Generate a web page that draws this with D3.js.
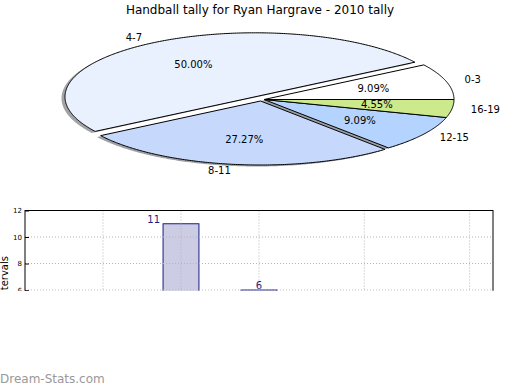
<!DOCTYPE html>
<html>
<head>
<meta charset="utf-8">
<script src="https://cdn.jsdelivr.net/npm/d3@7"></script>
<style>
    body { margin: 0; background: #fff; }
    svg { display: block; font-family: "DejaVu Sans", sans-serif; }
</style>
</head>
<body>
<svg id="chart" width="520" height="390"></svg>
<script>
// data
const title = 'Handball tally for Ryan Hargrave - 2010 tally';
const intervals = ['0-3', '4-7', '8-11', '12-15', '16-19'];
const tally = [2, 11, 6, 2, 1];
const yTicks = [6, 8, 10, 12];
const xGridTicks = [1, 2, 3, 4.35, 5.7];
const yLabel = 'Intervals';
const watermark = 'Dream-Stats.com';

// look
const sliceColors = ['#ffffff', '#eaf1fe', '#c6d8fb', '#b4d4ff', '#cce98c'];
const explodeOffset = [[0, 0], [-9, -2.7], [-3.5, 1.5], [0, 0], [0, 0]];
const pie = { cx: 264, cy: 99.5, rx: 190, ry: 64 };
const shadowOffset = [-3.5, 1.5];

const svg = d3.select('#chart');

svg.append('text')
    .attr('x', 260)
    .attr('y', 14)
    .attr('text-anchor', 'middle')
    .attr('font-size', '12px')
    .text(title);

renderPie();
renderBars();

svg.append('text')
    .attr('x', 0)
    .attr('y', 383)
    .attr('font-size', '12px')
    .attr('fill', '#999')
    .text(watermark);

function ellipsePoint(theta, r) {
    return [pie.cx + r * pie.rx * Math.cos(theta), pie.cy - r * pie.ry * Math.sin(theta)];
}

function wedgePoints(a0, a1) {
    const pts = [[pie.cx, pie.cy]];
    const steps = Math.max(8, Math.ceil((a1 - a0) / 0.01));
    for (let i = 0; i <= steps; i++) {
        pts.push(ellipsePoint(a0 + (a1 - a0) * i / steps, 1));
    }
    return pts;
}

function renderPie() {
    const total = d3.sum(tally);
    const arcs = d3.pie().sort(null).startAngle(0).endAngle(2 * Math.PI)(tally);
    const line = d3.line().curve(d3.curveLinearClosed);
    const g = svg.append('g');

    // shadows first, under every wedge
    g.selectAll('path.shadow')
        .data(arcs)
        .enter()
        .append('path')
        .attr('class', 'shadow')
        .attr('d', d => line(wedgePoints(d.startAngle, d.endAngle)))
        .attr('transform', (d, i) => `translate(${explodeOffset[i][0] + shadowOffset[0]},${explodeOffset[i][1] + shadowOffset[1]})`)
        .attr('fill', (d, i) => {
            const c = d3.rgb(sliceColors[i]);
            return d3.rgb(c.r * 0.3, c.g * 0.3, c.b * 0.3);
        })
        .attr('fill-opacity', 0.5);

    g.selectAll('path.wedge')
        .data(arcs)
        .enter()
        .append('path')
        .attr('class', 'wedge')
        .attr('d', d => line(wedgePoints(d.startAngle, d.endAngle)))
        .attr('transform', (d, i) => `translate(${explodeOffset[i][0]},${explodeOffset[i][1]})`)
        .attr('fill', (d, i) => sliceColors[i])
        .attr('stroke', '#000')
        .attr('stroke-width', 1)
        .attr('stroke-linejoin', 'round');

    arcs.forEach((d, i) => {
        const mid = (d.startAngle + d.endAngle) / 2;
        const [lx, ly] = ellipsePoint(mid, 1.1);
        const [px, py] = ellipsePoint(mid, 0.6);
        const [ox, oy] = explodeOffset[i];

        g.append('text')
            .attr('x', lx + ox)
            .attr('y', ly + oy)
            .attr('dy', '0.35em')
            .attr('text-anchor', Math.cos(mid) > 0 ? 'start' : 'end')
            .attr('font-size', '10px')
            .text(intervals[i]);

        g.append('text')
            .attr('x', px + ox)
            .attr('y', py + oy)
            .attr('dy', '0.35em')
            .attr('text-anchor', 'middle')
            .attr('font-size', '10px')
            .text(d3.format('.2f')(d.value / total * 100) + '%');
    });
}

function renderBars() {
    const left = 25, right = 493, top = 210.5, cut = 290.8;
    const x = d3.scaleLinear().domain([0, 6]).range([left, right]);
    const y = d3.scaleLinear().domain([0, 12]).range([top + 12 * 13.25, top]);
    const barWidth = 0.46;
    const labelShift = [0, -0.35, 0, 0, 0];

    svg.append('clipPath')
        .attr('id', 'cut')
        .append('rect')
        .attr('x', 0).attr('y', 0)
        .attr('width', 520).attr('height', cut);

    const g = svg.append('g').attr('clip-path', 'url(#cut)');

    // only bars whose top is above the cut carry a visible label
    const visible = tally.map((d, i) => ({ value: d, i })).filter(d => y(d.value) < cut);

    g.selectAll('rect.bar')
        .data(tally)
        .enter()
        .append('rect')
        .attr('class', 'bar')
        .attr('x', (d, i) => x(i + 1 - barWidth / 2))
        .attr('y', d => y(d))
        .attr('width', x(barWidth) - x(0))
        .attr('height', d => y(0) - y(d))
        .attr('fill', '#cccce4')
        .attr('stroke', '#1c1c86')
        .attr('stroke-width', 1);

    g.selectAll('text.val')
        .data(visible)
        .enter()
        .append('text')
        .attr('class', 'val')
        .attr('x', d => x(d.i + 1 + labelShift[d.i]))
        .attr('y', d => y(d.value) - 0.8)
        .attr('text-anchor', 'middle')
        .attr('font-size', '10px')
        .attr('fill', '#1c1c86')
        .text(d => d.value);

    // dotted grid on top of the bars
    g.selectAll('line.hgrid')
        .data(yTicks)
        .enter()
        .append('line')
        .attr('x1', left).attr('x2', right)
        .attr('y1', d => y(d)).attr('y2', d => y(d))
        .attr('stroke', '#b4b4b4')
        .attr('stroke-dasharray', '1,2');

    g.selectAll('line.vgrid')
        .data(xGridTicks)
        .enter()
        .append('line')
        .attr('x1', d => x(d)).attr('x2', d => x(d))
        .attr('y1', top).attr('y2', cut)
        .attr('stroke', '#b4b4b4')
        .attr('stroke-dasharray', '1,2');

    const yAxis = g.append('g')
        .attr('transform', `translate(${left},0)`)
        .call(d3.axisLeft(y).tickValues(yTicks).tickSize(-4).tickPadding(3));
    yAxis.select('.domain').remove();
    yAxis.selectAll('text').attr('font-size', '7px').attr('font-family', '"DejaVu Sans", sans-serif');

    g.append('rect')
        .attr('x', left).attr('y', top)
        .attr('width', right - left).attr('height', y(0) - top)
        .attr('fill', 'none')
        .attr('stroke', '#000')
        .attr('stroke-width', 1);

    g.append('text')
        .attr('transform', 'translate(8,256) rotate(-90)')
        .attr('text-anchor', 'end')
        .attr('font-size', '10px')
        .text(yLabel);
}
</script>
</body>
</html>
